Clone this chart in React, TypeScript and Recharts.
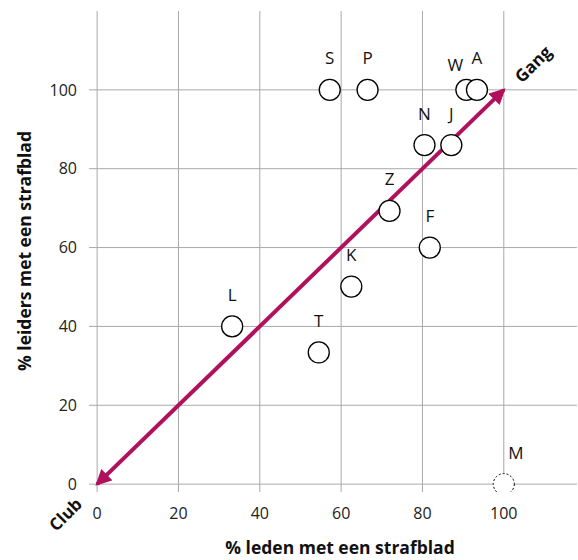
import React from "react";
import {
  ScatterChart,
  Scatter,
  XAxis,
  YAxis,
  CartesianGrid,
  ReferenceLine,
  ReferenceDot,
  LabelList,
} from "recharts";

// Clubs / gangs: % members with a record (x) vs % leaders with a record (y)
const clubNames = ["S", "P", "W", "A", "N", "J", "Z", "F", "K", "L", "T"];
const membersPct = [57.2, 66.5, 90.8, 93.4, 80.5, 87.1, 71.9, 81.8, 62.5, 33.2, 54.5];
const leadersPct = [100, 100, 100, 100, 86, 86, 69.3, 60, 50.1, 40, 33.4];

// Dashed (uncertain) club
const dashedNames = ["M"];
const dashedMembersPct = [100];
const dashedLeadersPct = [0];

const axisTicks = [0, 20, 40, 60, 80, 100];

const xTitle = "% leden met een strafblad";
const yTitle = "% leiders met een strafblad";
const gangLabel = "Gang";
const clubLabel = "Club";

// label nudges (layout only)
const labelNudge: Record<string, [number, number]> = {
  W: [-11, 7],
  M: [12, 0],
};

const clubData = clubNames.map((name, i) => ({
  name,
  x: membersPct[i],
  y: leadersPct[i],
}));
const dashedData = dashedNames.map((name, i) => ({
  name,
  x: dashedMembersPct[i],
  y: dashedLeadersPct[i],
}));

const FONT = "'Open Sans', 'Noto Sans', sans-serif";
const ARROW = "#B0105C";
const GRID = "#a9a9a9";

const circleShape = (dashed: boolean) => (props: any) => {
  const { cx, cy } = props;
  return (
    <circle
      cx={cx}
      cy={cy}
      r={10.5}
      fill="#fff"
      stroke="#000"
      strokeWidth={dashed ? 1 : 1.3}
      strokeDasharray={dashed ? "2 2" : undefined}
    />
  );
};

const pointLabel = (props: any) => {
  const { x, y, width, value } = props;
  const cx = x + (width || 0) / 2;
  const nudge = labelNudge[value] || [0, 0];
  return (
    <text
      x={cx + nudge[0]}
      y={y - 21 + nudge[1]}
      textAnchor="middle"
      fontFamily={FONT}
      fontSize={17}
      fill="#111"
    >
      {value}
    </text>
  );
};

const arrowShape = (props: any) => {
  const { x1, y1, x2, y2 } = props;
  return (
    <g>
      <defs>
        <marker
          id="arrowHead"
          viewBox="0 0 10 10"
          refX="8.5"
          refY="5"
          markerWidth="4"
          markerHeight="4"
          orient="auto-start-reverse"
          markerUnits="strokeWidth"
        >
          <path d="M0,0 L10,5 L0,10 z" fill={ARROW} />
        </marker>
      </defs>
      <line
        x1={x1}
        y1={y1}
        x2={x2}
        y2={y2}
        stroke={ARROW}
        strokeWidth={4}
        markerStart="url(#arrowHead)"
        markerEnd="url(#arrowHead)"
      />
    </g>
  );
};

const rotatedLabel = (text: string, dx: number, dy: number) => (props: any) => {
  const vb = props.viewBox || {};
  const cx = (vb.x ?? 0) + (vb.width ?? 0) / 2 + dx;
  const cy = (vb.y ?? 0) + (vb.height ?? 0) / 2 + dy;
  return (
    <text
      x={cx}
      y={cy}
      textAnchor="middle"
      dominantBaseline="central"
      transform={`rotate(-45 ${cx} ${cy})`}
      fontFamily={FONT}
      fontWeight={700}
      fontSize={17}
      fill="#111"
    >
      {text}
    </text>
  );
};

const tickStyle = {
  fontFamily: FONT,
  fontSize: 16,
  fill: "#222",
  fontVariantNumeric: "oldstyle-nums",
};

export default function App() {
  return (
    <div style={{ position: "absolute", left: 0, top: 0, width: 578, height: 560, background: "#fff" }}>
      <ScatterChart
        width={578}
        height={560}
        margin={{ top: 11, right: 1, bottom: 38, left: 0 }}
      >
        <CartesianGrid stroke={GRID} strokeWidth={1} horizontalValues={axisTicks} verticalValues={axisTicks} />
        <XAxis
          type="number"
          dataKey="x"
          domain={[-2, 118]}
          ticks={axisTicks}
          axisLine={false}
          tickLine={false}
          tickMargin={10}
          height={30}
          tick={tickStyle}
          allowDataOverflow
          label={() => (
            <text
              x={340}
              y={554}
              textAnchor="middle"
              fontFamily={FONT}
              fontWeight={700}
              fontSize={17.5}
              fill="#111"
            >
              {xTitle}
            </text>
          )}
        />
        <YAxis
          type="number"
          dataKey="y"
          domain={[-2, 120]}
          ticks={axisTicks}
          axisLine={false}
          tickLine={false}
          tickMargin={6}
          width={89}
          tick={tickStyle}
          allowDataOverflow
          label={() => (
            <text
              x={24}
              y={251}
              textAnchor="middle"
              dominantBaseline="central"
              transform="rotate(-90 24 251)"
              fontFamily={FONT}
              fontWeight={700}
              fontSize={17.5}
              fill="#111"
            >
              {yTitle}
            </text>
          )}
        />
        <ReferenceLine
          segment={[
            { x: 0, y: 0 },
            { x: 100, y: 100 },
          ]}
          shape={arrowShape}
          ifOverflow="visible"
        />
        <Scatter data={clubData} isAnimationActive={false} shape={circleShape(false)}>
          <LabelList dataKey="name" content={pointLabel} />
        </Scatter>
        <Scatter data={dashedData} isAnimationActive={false} shape={circleShape(true)}>
          <LabelList dataKey="name" content={pointLabel} />
        </Scatter>
        <ReferenceDot
          x={100}
          y={100}
          r={0}
          fill="none"
          stroke="none"
          ifOverflow="visible"
          label={rotatedLabel(gangLabel, 29, -26)}
        />
        <ReferenceDot
          x={0}
          y={0}
          r={0}
          fill="none"
          stroke="none"
          ifOverflow="visible"
          label={rotatedLabel(clubLabel, -32, 30)}
        />
      </ScatterChart>
    </div>
  );
}
